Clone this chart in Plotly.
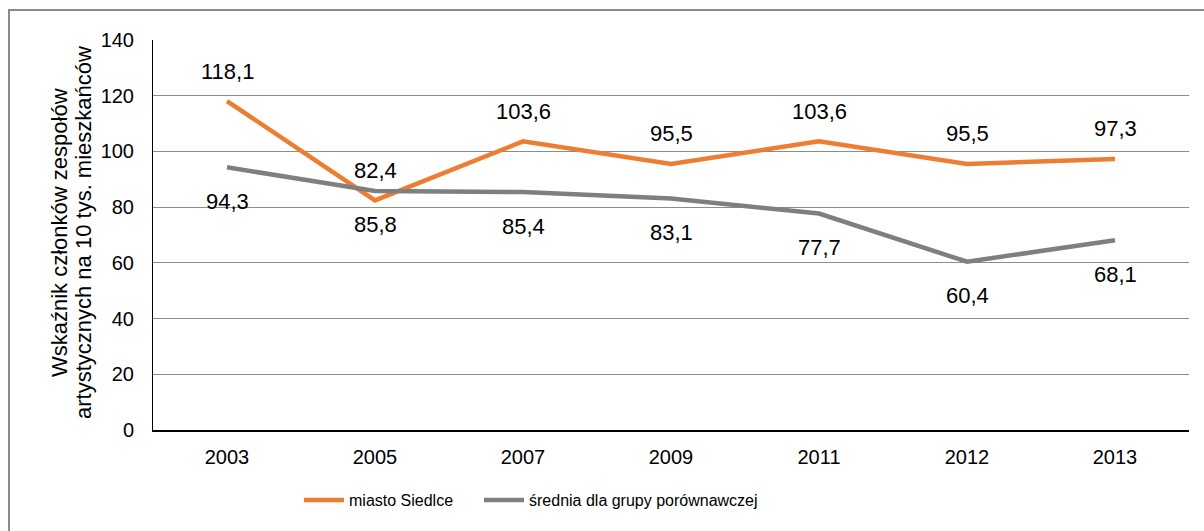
import plotly.graph_objects as go

years = ["2003", "2005", "2007", "2009", "2011", "2012", "2013"]
siedlce = [118.1, 82.4, 103.6, 95.5, 103.6, 95.5, 97.3]
grupa = [94.3, 85.8, 85.4, 83.1, 77.7, 60.4, 68.1]
y_ticks = [0, 20, 40, 60, 80, 100, 120, 140]
y_title = ["Wskaźnik członków zespołów", "artystycznych na 10 tys. mieszkańców"]

ORANGE = "#ED7D31"
GRAY = "#7F7F7F"
FONT = "Liberation Sans, Arial, sans-serif"

W, H = 1204, 531
L, R, T, B = 153, 15, 40, 101
pw, ph = W - L - R, H - T - B


def px_x(x):
    return (x - L) / pw


def px_y(y):
    return (H - B - y) / ph


def fmt(v):
    return f"{v:.1f}".replace(".", ",")


fig = go.Figure()
fig.add_trace(go.Scatter(x=years, y=siedlce, mode="lines", name="miasto Siedlce",
                         line=dict(color=ORANGE, width=4.5), legend="legend"))
fig.add_trace(go.Scatter(x=years, y=grupa, mode="lines", name="średnia dla grupy porównawczej",
                         line=dict(color=GRAY, width=4.5), legend="legend2"))

# value labels: above the orange line, below the gray one
annotations = []
for i, v in enumerate(siedlce):
    annotations.append(dict(x=i, y=v, text=fmt(v), showarrow=False, yshift=30,
                            font=dict(size=22, color="#000", family=FONT)))
for i, v in enumerate(grupa):
    annotations.append(dict(x=i, y=v, text=fmt(v), showarrow=False, yshift=-34,
                            font=dict(size=22, color="#000", family=FONT)))

# Y axis title, one rotated annotation per line
for line, cx in zip(y_title, (59, 83)):
    annotations.append(dict(xref="paper", yref="paper", x=px_x(cx), y=px_y(233),
                            text=line, textangle=-90, showarrow=False,
                            xanchor="center", yanchor="middle",
                            font=dict(size=22, color="#000", family=FONT)))

# outer frame (left and top edges visible)
fig.add_shape(type="rect", xref="paper", yref="paper",
              x0=px_x(9), x1=1.2, y0=-0.5, y1=px_y(10),
              line=dict(color="#8a8a8a", width=2), fillcolor="rgba(0,0,0,0)", layer="below")

legend_common = dict(orientation="h", xanchor="left", yanchor="middle", y=px_y(500),
                     font=dict(size=16, family=FONT, color="#000"),
                     itemwidth=40, bgcolor="rgba(0,0,0,0)")

fig.update_layout(
    width=W, height=H,
    margin=dict(l=L, r=R, t=T, b=B),
    paper_bgcolor="white", plot_bgcolor="white",
    font=dict(family=FONT, color="#000"),
    showlegend=True,
    legend=dict(x=px_x(299), **legend_common),
    legend2=dict(x=px_x(479), **legend_common),
    annotations=annotations,
    xaxis=dict(type="category", range=[-0.5, 6.5], showgrid=False, showline=True,
               linecolor="#000", linewidth=1.5,
               ticks="", tickfont=dict(size=20, family=FONT, color="#000"),
               ticklabelstandoff=8, fixedrange=True),
    yaxis=dict(range=[0, 140], tickvals=y_ticks, showgrid=True, gridcolor="#8c8c8c", gridwidth=1,
               showline=True, linecolor="#000", linewidth=1, zeroline=False,
               ticks="", tickfont=dict(size=20, family=FONT, color="#000"),
               ticklabelstandoff=14, fixedrange=True),
)

fig.write_html("out.html")
